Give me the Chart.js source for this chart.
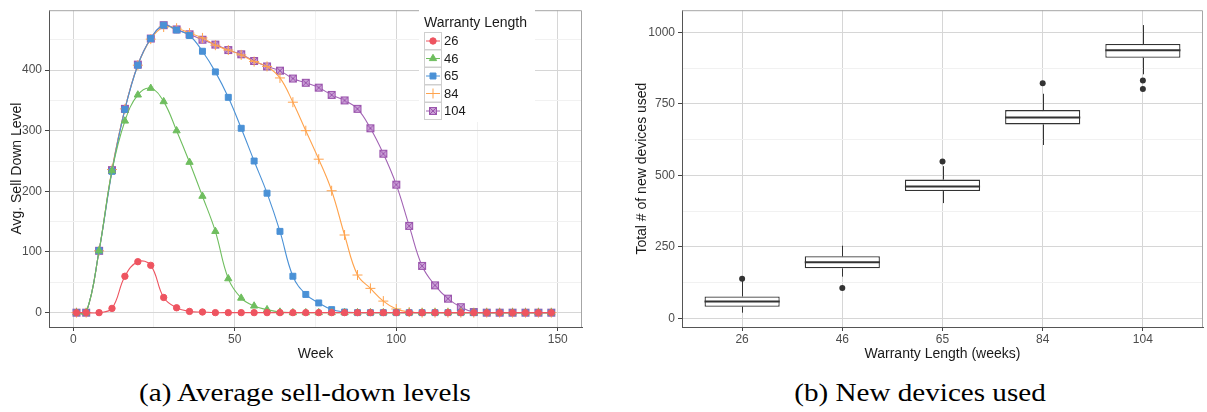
<!DOCTYPE html>
<html>
<head>
<meta charset="utf-8">
<script src="https://cdn.jsdelivr.net/npm/chart.js@4"></script>
<style>
  body { margin: 0; background: #fff; width: 1207px; height: 412px; overflow: hidden; position: relative; }
  canvas { position: absolute; top: 0; }
  #sell { left: 0; }
  #devices { left: 620px; }
  .caption { position: absolute; top: 378px; width: 500px; text-align: center;
    font-family: "Liberation Serif", "DejaVu Serif", serif; font-size: 26px; color: #000;
    transform: scaleX(1.12); }
</style>
</head>
<body>
<canvas id="sell" width="590" height="365"></canvas>
<canvas id="devices" width="587" height="365"></canvas>
<div class="caption" style="left:55px">(a) Average sell-down levels</div>
<div class="caption" style="left:670px">(b) New devices used</div>
<script>
// ---- chart (a) data: avg sell-down level per week, by warranty length
const weeks = [1, 4, 8, 12, 16, 20, 24, 28, 32, 36, 40, 44, 48, 52, 56, 60, 64, 68, 72,
  76, 80, 84, 88, 92, 96, 100, 104, 108, 112, 116, 120, 124, 128, 132, 136, 140, 144, 148];
const w26 = [0, 0, 0, 7, 60, 84, 78, 25, 8, 2, 1, 0, 0, 0, 0, 0, 0, 0, 0,
  0, 0, 0, 0, 0, 0, 0, 0, 0, 0, 0, 0, 0, 0, 0, 0, 0, 0, 0];
const w46 = [0, 0, 102, 234, 316, 359, 370, 348, 300, 248, 192, 134, 56, 24, 11, 5, 1, 0, 0,
  0, 0, 0, 0, 0, 0, 0, 0, 0, 0, 0, 0, 0, 0, 0, 0, 0, 0, 0];
const w65 = [0, 0, 102, 233, 335, 408, 452, 474, 466, 457, 431, 397, 355, 304, 250, 197, 134, 60, 30,
  16, 5, 1, 0, 0, 0, 0, 0, 0, 0, 0, 0, 0, 0, 0, 0, 0, 0, 0];
const w84 = [0, 0, 102, 236, 336, 408, 451, 471, 469, 461, 453, 441, 433, 425, 414, 406, 387, 347, 300,
  253, 201, 128, 62, 40, 19, 6, 1, 0, 0, 0, 0, 0, 0, 0, 0, 0, 0, 0];
const w104 = [0, 0, 102, 235, 336, 409, 452, 474, 467, 459, 450, 442, 433, 426, 415, 406, 399, 386, 379,
  371, 359, 350, 336, 304, 262, 211, 143, 77, 45, 23, 9, 1, 0, 0, 0, 0, 0, 0];
const seriesNames = ['26', '46', '65', '84', '104'];

// ---- chart (b) data: total new devices used (box plot stats)
const categories = ['26', '46', '65', '84', '104'];
const whiskerLow = [20, 146, 403, 606, 853];
const q1 = [41, 175, 445, 678, 911];
const median = [59, 196, 461, 702, 937];
const q3 = [77, 217, 485, 728, 959];
const whiskerHigh = [131, 254, 532, 785, 1025];
const outliers = [[139], [106], [548], [822], [831, 802]];

const tickFont = { family: 'Liberation Sans, Arial, sans-serif', size: 12 };
const titleFont = { family: 'Liberation Sans, Arial, sans-serif', size: 14 };
const majorGrid = '#d6d6d6';
const minorGrid = '#f1f1f1';

// square-with-cross marker (ggplot shape 7)
function squareCross(color, fill) {
  const c = document.createElement('canvas');
  c.width = 10; c.height = 10;
  const g = c.getContext('2d');
  g.fillStyle = fill;
  g.fillRect(1, 1, 8, 8);
  g.strokeStyle = color;
  g.lineWidth = 1;
  g.strokeRect(1.5, 1.5, 7, 7);
  g.beginPath();
  g.moveTo(2, 2); g.lineTo(8, 8);
  g.moveTo(8, 2); g.lineTo(2, 8);
  g.stroke();
  return c;
}

const colors = ['#ee5460', '#6fbe5f', '#4a91d6', '#ffa34d', '#a263b4'];
const styles = ['circle', 'triangle', 'rect', 'cross', squareCross('#9b55ad', 'rgba(196,150,210,0.9)')];
const radii = [3.2, 4.2, 4.2, 5, 5];

function toPoints(vals) {
  return weeks.map((w, i) => ({ x: w, y: vals[i] }));
}

const panelBorder = {
  id: 'panelBorder',
  afterDraw(chart) {
    const { ctx, chartArea: a } = chart;
    ctx.save();
    ctx.strokeStyle = '#a6a6a6';
    ctx.lineWidth = 1;
    ctx.beginPath();
    ctx.moveTo(a.left, a.top + 0.5);
    ctx.lineTo(a.right - 0.5, a.top + 0.5);
    ctx.lineTo(a.right - 0.5, a.bottom);
    ctx.stroke();
    ctx.restore();
  }
};

// ggplot style legend drawn inside the panel
const ggLegend = {
  id: 'ggLegend',
  afterDraw(chart) {
    const ctx = chart.ctx;
    const x0 = 419, y0 = 9;
    ctx.save();
    ctx.fillStyle = '#fff';
    ctx.fillRect(x0, y0, 116, 113);
    ctx.fillStyle = '#1a1a1a';
    ctx.font = '14px Liberation Sans, Arial, sans-serif';
    ctx.textBaseline = 'middle';
    ctx.fillText('Warranty Length', x0 + 5, y0 + 14);
    chart.data.datasets.forEach((ds, i) => {
      const cy = y0 + 32 + i * 17.5;
      ctx.strokeStyle = '#cfcfcf';
      ctx.lineWidth = 1;
      ctx.strokeRect(x0 + 5.5, cy - 8.5, 17, 17);
      ctx.strokeStyle = ds.borderColor;
      ctx.beginPath();
      ctx.moveTo(x0 + 7, cy);
      ctx.lineTo(x0 + 21, cy);
      ctx.stroke();
      ctx.fillStyle = ds.backgroundColor;
      Chart.helpers.drawPoint(ctx, {
        pointStyle: ds.pointStyle, radius: ds.pointRadius, borderWidth: 1, rotation: 0
      }, x0 + 14, cy);
      ctx.fillStyle = '#1a1a1a';
      ctx.font = '13px Liberation Sans, Arial, sans-serif';
      ctx.fillText(seriesNames[i], x0 + 25, cy + 0.5);
    });
    ctx.restore();
  }
};

function gridColor(step) {
  return (c) => (c.tick && Math.abs(c.tick.value % step) < 1e-6) ? majorGrid : minorGrid;
}
function tickColor(step) {
  return (c) => (c.tick && Math.abs(c.tick.value % step) < 1e-6) ? '#444' : 'rgba(0,0,0,0)';
}

new Chart(document.getElementById('sell'), {
  type: 'scatter',
  data: {
    datasets: [w26, w46, w65, w84, w104].map((vals, i) => ({
      label: seriesNames[i],
      data: toPoints(vals),
      showLine: true,
      tension: 0.4,
      borderColor: colors[i],
      backgroundColor: colors[i],
      borderWidth: 1.1,
      pointStyle: styles[i],
      pointRadius: radii[i],
      pointBorderWidth: 1
    }))
  },
  options: {
    responsive: false,
    animation: false,
    devicePixelRatio: 1,
    layout: { padding: { top: 4, right: 8, left: 0, bottom: 0 } },
    plugins: { legend: { display: false }, tooltip: { enabled: false } },
    scales: {
      x: {
        type: 'linear', min: -7.5, max: 157.5,
        afterFit: (s) => { s.height = 38; },
        ticks: {
          stepSize: 25, includeBounds: false, autoSkip: false, maxRotation: 0,
          padding: 1, color: '#4d4d4d', font: tickFont,
          callback: (v) => (v % 50 === 0 ? String(v) : '')
        },
        grid: { color: gridColor(50), tickColor: tickColor(50), tickLength: 4 },
        border: { color: '#555', width: 1 },
        title: { display: true, text: 'Week', color: '#1a1a1a', font: titleFont, padding: { top: 0, bottom: 2 } }
      },
      y: {
        min: -23.7, max: 498.7,
        afterFit: (s) => { s.width = 49; },
        ticks: {
          stepSize: 50, includeBounds: false, autoSkip: false,
          padding: 3, color: '#4d4d4d', font: tickFont,
          callback: (v) => (v % 100 === 0 ? String(v) : '')
        },
        grid: { color: gridColor(100), tickColor: tickColor(100), tickLength: 4 },
        border: { color: '#555', width: 1 },
        title: { display: true, text: 'Avg. Sell Down Level', color: '#1a1a1a', font: titleFont, padding: { top: 9, bottom: 0 } }
      }
    }
  },
  plugins: [panelBorder, ggLegend]
});

// ---- chart (b): box plot from floating bars + whiskers/medians
const boxExtras = {
  id: 'boxExtras',
  beforeDatasetsDraw(chart) {
    const { ctx, scales: { x, y } } = chart;
    ctx.save();
    ctx.strokeStyle = '#333';
    ctx.lineWidth = 1;
    categories.forEach((c, i) => {
      const px = Math.round(x.getPixelForValue(i + 1)) + 0.5;
      ctx.beginPath();
      ctx.moveTo(px, y.getPixelForValue(whiskerLow[i]));
      ctx.lineTo(px, y.getPixelForValue(q1[i]));
      ctx.moveTo(px, y.getPixelForValue(q3[i]));
      ctx.lineTo(px, y.getPixelForValue(whiskerHigh[i]));
      ctx.stroke();
    });
    ctx.restore();
  },
  afterDatasetsDraw(chart) {
    const { ctx, scales: { y } } = chart;
    const bars = chart.getDatasetMeta(0).data;
    ctx.save();
    ctx.strokeStyle = '#333';
    ctx.lineWidth = 2;
    bars.forEach((b, i) => {
      const py = y.getPixelForValue(median[i]);
      ctx.beginPath();
      ctx.moveTo(b.x - b.width / 2, py);
      ctx.lineTo(b.x + b.width / 2, py);
      ctx.stroke();
    });
    ctx.restore();
  }
};

const outlierPoints = [];
outliers.forEach((list, i) => list.forEach((v) => outlierPoints.push({ x: i + 1, y: v })));

new Chart(document.getElementById('devices'), {
  type: 'bar',
  data: {
    datasets: [{
      label: 'box',
      data: categories.map((c, i) => ({ x: i + 1, y: [q1[i], q3[i]] })),
      backgroundColor: '#fff',
      borderColor: '#333',
      borderWidth: 1.3,
      borderSkipped: false,
      categoryPercentage: 1,
      barPercentage: 0.75
    }, {
      type: 'scatter',
      label: 'outliers',
      data: outlierPoints,
      backgroundColor: '#333',
      borderColor: '#333',
      pointRadius: 3,
      pointBorderWidth: 0
    }]
  },
  options: {
    responsive: false,
    animation: false,
    devicePixelRatio: 1,
    layout: { padding: { top: 4, right: 0, left: 0, bottom: 0 } },
    plugins: { legend: { display: false }, tooltip: { enabled: false } },
    scales: {
      x: {
        type: 'linear', min: 0.4, max: 5.6, offset: false,
        afterFit: (s) => { s.height = 38; },
        ticks: {
          stepSize: 1, includeBounds: false, autoSkip: false, maxRotation: 0,
          padding: 1, color: '#4d4d4d', font: tickFont,
          callback: (v) => (Number.isInteger(v) ? categories[v - 1] : '')
        },
        grid: { offset: false, color: majorGrid, tickColor: '#444', tickLength: 4 },
        border: { color: '#555', width: 1 },
        title: { display: true, text: 'Warranty Length (weeks)', color: '#1a1a1a', font: titleFont, padding: { top: 0, bottom: 2 } }
      },
      y: {
        min: -30, max: 1077,
        afterFit: (s) => { s.width = 62; },
        ticks: {
          stepSize: 125, includeBounds: false, autoSkip: false,
          padding: 3, color: '#4d4d4d', font: tickFont,
          callback: (v) => (v % 250 === 0 ? String(v) : '')
        },
        grid: { color: gridColor(250), tickColor: tickColor(250), tickLength: 4 },
        border: { color: '#555', width: 1 },
        title: { display: true, text: 'Total # of new devices used', color: '#1a1a1a', font: titleFont, padding: { top: 14, bottom: 0 } }
      }
    }
  },
  plugins: [panelBorder, boxExtras]
});
</script>
</body>
</html>
